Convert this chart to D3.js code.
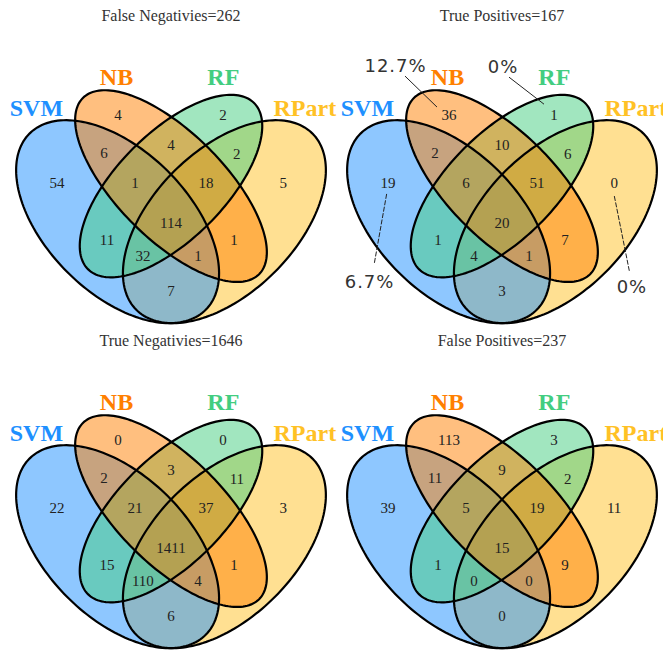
<!DOCTYPE html>
<html>
<head>
<meta charset="utf-8">
<script src="https://cdn.jsdelivr.net/npm/d3@7"></script>
<style>
  body { margin: 0; background: #fff; }
  svg { display: block; }
</style>
</head>
<body>
<svg id="venn"></svg>
<script>
// sets and colours
const setNames = ["SVM", "NB", "RF", "RPart"];
const setColors = ["#1E90FF", "#FF7F00", "#43CD80", "#FFC125"];

// region order used by every count array below
const regions = ["NB", "RF", "SVM&NB", "NB&RF", "RF&RPart", "SVM", "SVM&NB&RF", "NB&RF&RPart",
                 "RPart", "SVM&NB&RF&RPart", "SVM&RF", "NB&RPart", "SVM&RF&RPart", "SVM&NB&RPart", "SVM&RPart"];

const panelTitles = ["False Negativies", "True Positives", "True Negativies", "False Positives"];
const falseNegatives = [4, 2, 6, 4, 2, 54, 1, 18, 5, 114, 11, 1, 32, 1, 7];
const truePositives  = [36, 1, 2, 10, 6, 19, 6, 51, 0, 20, 1, 7, 4, 1, 3];
const trueNegatives  = [0, 0, 2, 3, 11, 22, 21, 37, 3, 1411, 15, 1, 110, 4, 6];
const falsePositives = [113, 3, 11, 9, 2, 39, 5, 19, 11, 15, 1, 9, 0, 0, 0];
const panelValues = [falseNegatives, truePositives, trueNegatives, falsePositives];

// share notes written on the true positives panel
const shareRegions = ["NB", "RF", "SVM", "RPart"];
const shareLabels = ["12.7%", "0%", "6.7%", "0%"];

// ---- layout (unit square, like VennDiagram's quad layout) ----
const ellipses = [ // drawn in this order
  { set: "RPart", cx: 0.65, cy: 0.47, a: 0.35, b: 0.20, rot: 45 },
  { set: "SVM",   cx: 0.35, cy: 0.47, a: 0.35, b: 0.20, rot: 135 },
  { set: "RF",    cx: 0.50, cy: 0.57, a: 0.33, b: 0.15, rot: 45 },
  { set: "NB",    cx: 0.50, cy: 0.57, a: 0.35, b: 0.15, rot: 135 }
];
const regionPos = {
  "NB": [0.351, 0.770], "RF": [0.646, 0.770], "SVM&NB": [0.312, 0.663], "NB&RF": [0.500, 0.685],
  "RF&RPart": [0.685, 0.660], "SVM": [0.180, 0.579], "SVM&NB&RF": [0.399, 0.579],
  "NB&RF&RPart": [0.598, 0.579], "RPart": [0.815, 0.579], "SVM&NB&RF&RPart": [0.500, 0.466],
  "SVM&RF": [0.320, 0.419], "NB&RPart": [0.677, 0.419], "SVM&RF&RPart": [0.421, 0.374],
  "SVM&NB&RPart": [0.576, 0.374], "SVM&RPart": [0.500, 0.275]
};
const catPos = { "SVM": [0.122, 0.767], "NB": [0.347, 0.854], "RF": [0.647, 0.854], "RPart": [0.876, 0.767] };
const sharePos = { "NB": [0.201, 0.890], "RF": [0.503, 0.888], "SVM": [0.128, 0.284], "RPart": [0.865, 0.270] };
const shareLines = {
  "NB": [[0.2275, 0.879], [0.3174, 0.792]],
  "RF": [[0.5197, 0.876], [0.618, 0.800]],
  "SVM": [[0.176, 0.548], [0.141, 0.351]],
  "RPart": [[0.8155, 0.542], [0.8576, 0.332]]
};

const W = 663, H = 651, panelW = 331, panelH = 325;

const svg = d3.select("#venn").attr("width", W).attr("height", H);

const x = d3.scaleLinear().domain([0, 1]).range([-7, 349]);
const y = d3.scaleLinear().domain([0, 1]).range([389, 33]);

const color = d3.scaleOrdinal().domain(setNames).range(setColors);

const line = d3.line().x(d => x(d[0])).y(d => y(d[1])).curve(d3.curveLinearClosed);

function ellipsePoints(e) {
  const r = e.rot * Math.PI / 180;
  return d3.range(0, 360, 2).map(t => {
    const th = t * Math.PI / 180;
    return [e.cx + e.a * Math.cos(th) * Math.cos(r) - e.b * Math.sin(th) * Math.sin(r),
            e.cy + e.a * Math.cos(th) * Math.sin(r) + e.b * Math.sin(th) * Math.cos(r)];
  });
}

panelValues.forEach((values, i) => {
  const g = svg.append("g")
    .attr("transform", `translate(${(i % 2) * panelW},${Math.floor(i / 2) * panelH})`);

  // fills
  g.selectAll("path.fill")
    .data(ellipses)
    .join("path")
    .attr("class", "fill")
    .attr("d", d => line(ellipsePoints(d)))
    .attr("fill", d => color(d.set))
    .attr("fill-opacity", 0.5);

  // outlines
  g.selectAll("path.edge")
    .data(ellipses)
    .join("path")
    .attr("class", "edge")
    .attr("d", d => line(ellipsePoints(d)))
    .attr("fill", "none")
    .attr("stroke", "#000")
    .attr("stroke-width", 2.2);

  // counts
  g.selectAll("text.count")
    .data(regions.map((r, k) => ({ r, v: values[k] })))
    .join("text")
    .attr("class", "count")
    .attr("x", d => x(regionPos[d.r][0]))
    .attr("y", d => y(regionPos[d.r][1]))
    .attr("text-anchor", "middle")
    .attr("dominant-baseline", "central")
    .style("font-family", "'Liberation Serif', serif")
    .style("font-size", "15px")
    .attr("fill", "#222")
    .text(d => d.v);

  // category names
  g.selectAll("text.cat")
    .data(setNames)
    .join("text")
    .attr("class", "cat")
    .attr("x", d => x(catPos[d][0]))
    .attr("y", d => y(catPos[d][1]))
    .attr("text-anchor", "middle")
    .style("font-family", "'Liberation Serif', serif")
    .style("font-size", "24px")
    .style("font-weight", "bold")
    .attr("fill", d => color(d))
    .text(d => d);

  // title
  g.append("text")
    .attr("x", x(0.5))
    .attr("y", 21)
    .attr("text-anchor", "middle")
    .style("font-family", "'Liberation Serif', serif")
    .style("font-size", "16px")
    .attr("fill", "#333")
    .text(`${panelTitles[i]}=${d3.sum(values)}`);

  if (i === 1) {
    g.selectAll("line.lead")
      .data(shareRegions)
      .join("line")
      .attr("class", "lead")
      .attr("x1", d => x(shareLines[d][0][0]))
      .attr("y1", d => y(shareLines[d][0][1]))
      .attr("x2", d => x(shareLines[d][1][0]))
      .attr("y2", d => y(shareLines[d][1][1]))
      .attr("stroke", "#222")
      .attr("stroke-width", 1)
      .attr("stroke-dasharray", (d, k) => k < 2 ? null : "5,1.5");

    g.selectAll("text.share")
      .data(shareRegions.map((r, k) => ({ r, label: shareLabels[k] })))
      .join("text")
      .attr("class", "share")
      .attr("x", d => x(sharePos[d.r][0]))
      .attr("y", d => y(sharePos[d.r][1]))
      .attr("text-anchor", "middle")
      .style("font-family", "'DejaVu Sans', sans-serif")
      .style("font-size", "18px")
      .style("letter-spacing", "1px")
      .attr("fill", "#333")
      .text(d => d.label);
  }
});
</script>
</body>
</html>
